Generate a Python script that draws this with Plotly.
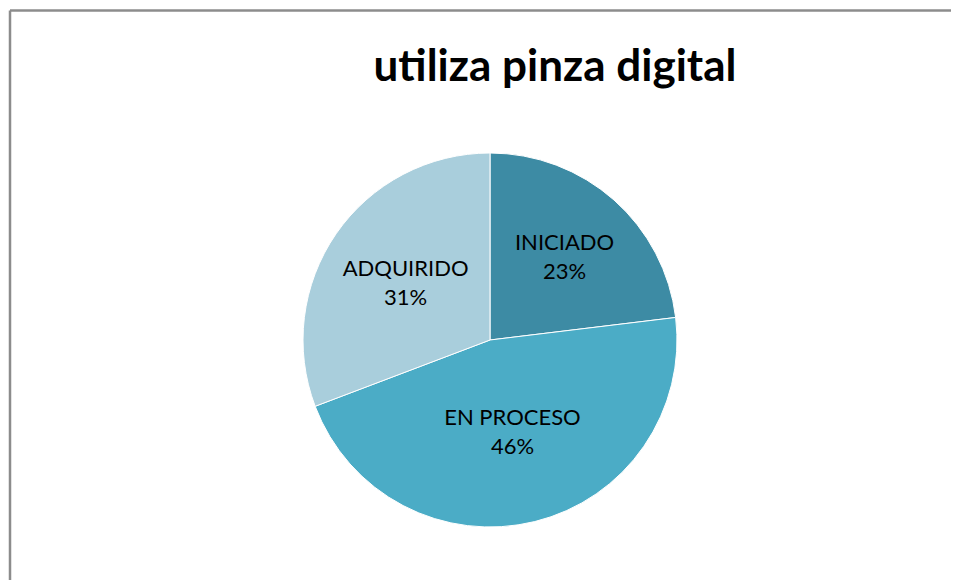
import plotly.graph_objects as go

labels = ["INICIADO", "EN PROCESO", "ADQUIRIDO"]
values = [3, 6, 4]
colors = ["#3D8BA4", "#4BACC6", "#A9CEDC"]
title_text = "utiliza pinza digital"

W, H = 959, 580
# page body adds an 8px offset, so layout positions are given relative to that
cx, cy, r = 482, 332, 187

fig = go.Figure(go.Pie(
    labels=labels,
    values=values,
    sort=False,
    direction="clockwise",
    rotation=0,
    marker=dict(colors=colors, line=dict(color="white", width=1)),
    textinfo="label+percent",
    texttemplate="%{label}<br>%{percent:.0%}",
    textposition="inside",
    insidetextorientation="horizontal",
    textfont=dict(family="Lato", size=22, color="black"),
    domain=dict(x=[(cx - r) / W, (cx + r) / W], y=[(H - cy - r) / H, (H - cy + r) / H]),
    showlegend=False,
    hoverinfo="label+percent",
))

fig.update_layout(
    width=W, height=H,
    margin=dict(l=0, r=0, t=0, b=0),
    paper_bgcolor="white",
    title=dict(text="<b>" + title_text + "</b>", x=547 / W, xanchor="center",
               y=1 - 58 / H, yanchor="middle",
               font=dict(family="Lato", size=44, color="black")),
    shapes=[
        dict(type="line", xref="paper", yref="paper", x0=2 / W, x1=1.01, y0=1 - 2.5 / H, y1=1 - 2.5 / H,
             line=dict(color="#8C8C8C", width=2.5)),
        dict(type="line", xref="paper", yref="paper", x0=2 / W, x1=2 / W, y0=-0.01, y1=1 - 2.5 / H,
             line=dict(color="#8C8C8C", width=2.5)),
    ],
)

fig.write_html("out.html")
